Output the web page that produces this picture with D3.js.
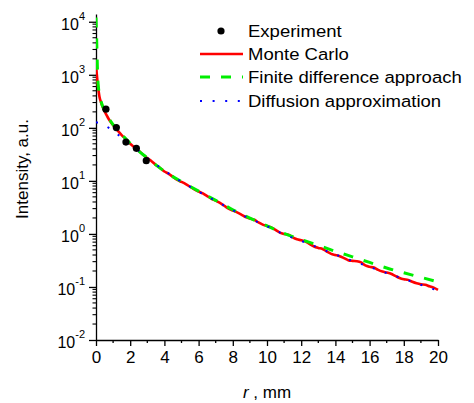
<!DOCTYPE html>
<html>
<head>
<meta charset="utf-8">
<script src="https://cdn.jsdelivr.net/npm/d3@7"></script>
<style>
  html, body { margin: 0; padding: 0; background: #fff; }
  svg { display: block; font-family: Arial, "Liberation Sans", sans-serif; }
</style>
</head>
<body>
<svg id="chart" width="474" height="403"></svg>
<script>
// Measured radial intensity profile (r in mm, intensity in a.u.)
const expR = [0.58, 1.19, 1.75, 2.36, 2.94];
const expI = [225, 101, 54, 41, 24];

// Monte Carlo simulation
const mcR = [0, 0.05, 0.1, 0.15, 0.2, 0.3, 0.4, 0.5, 0.6, 0.7, 0.85, 1.0, 1.25, 1.5, 1.75, 2.0, 2.25, 2.5, 2.75,
  3.0, 3.25, 3.5, 3.75, 4.0, 4.25, 4.5, 4.75, 5.0, 5.25, 5.5, 5.75, 6.0, 6.25, 6.5, 6.75, 7.0, 7.25, 7.5, 7.75,
  8.0, 8.25, 8.5, 8.75, 9.0, 9.25, 9.5, 9.75, 10.0, 10.25, 10.5, 10.75, 11.0, 11.25, 11.5, 11.75, 12.0, 12.25,
  12.5, 12.75, 13.0, 13.25, 13.5, 13.75, 14.0, 14.25, 14.5, 14.75, 15.0, 15.25, 15.5, 15.75, 16.0, 16.25, 16.5,
  16.75, 17.0, 17.25, 17.5, 17.75, 18.0, 18.25, 18.5, 18.75, 19.0, 19.25, 19.5, 19.75, 20.0];
const mcI = [1500, 1000, 680, 500, 390, 300, 245, 205, 178, 155, 130, 112, 90, 73, 61, 50, 43, 37, 31,
  26.9, 23.5, 20.0, 17.5, 15.0, 13.6, 11.9, 10.4, 9.55, 8.7, 7.76, 6.9, 6.31, 5.8, 5.16, 4.6, 4.25, 3.85, 3.39, 3.0,
  2.75, 2.55, 2.32, 2.08, 1.95, 1.85, 1.65, 1.5, 1.41, 1.33, 1.19, 1.06, 1.0, 0.97, 0.86, 0.79, 0.76, 0.72,
  0.64, 0.58, 0.545, 0.52, 0.465, 0.42, 0.40, 0.38, 0.35, 0.32, 0.31, 0.305, 0.29, 0.255, 0.24, 0.232, 0.21,
  0.195, 0.187, 0.178, 0.162, 0.148, 0.140, 0.136, 0.125, 0.117, 0.112, 0.110, 0.103, 0.097, 0.088];

// Finite difference approach
const fdR = [0, 0.03, 0.06, 0.1, 0.15, 0.2, 0.3, 0.5, 1, 1.5, 2, 3, 4, 5, 6, 7, 8, 9, 10, 11, 12, 13, 14, 15, 16, 17, 18, 19, 20];
const fdI = [12000, 6000, 2500, 900, 550, 420, 310, 210, 115, 75, 51, 27, 15.2, 9.7, 6.4, 4.3, 2.85, 1.98, 1.42, 1.02,
  0.78, 0.61, 0.47, 0.37, 0.29, 0.228, 0.185, 0.152, 0.125];

// Diffusion approximation
const daR = [0, 0.25, 0.5, 0.75, 1.0, 1.25, 1.5, 2, 2.5, 3, 3.5, 4, 4.5, 5, 6, 7, 8, 9, 10, 11, 12, 13, 14, 15, 16, 17, 18, 19, 20];
const daI = [127, 122, 112, 100, 88, 76, 65, 48, 37, 27, 20.5, 15.6, 12.2, 9.6, 6.3, 4.2, 2.8, 1.94, 1.4, 0.98, 0.74,
  0.55, 0.41, 0.31, 0.238, 0.183, 0.142, 0.11, 0.085];

const xTicks = [0, 2, 4, 6, 8, 10, 12, 14, 16, 18, 20];
const yTickExp = [-2, -1, 0, 1, 2, 3, 4];
const legendLabels = ["Experiment", "Monte Carlo", "Finite difference approach", "Diffusion approximation"];

const svg = d3.select("#chart");
const plotLeft = 96, plotRight = 438, plotTop = 14, plotBottom = 340;

const x = d3.scaleLinear().domain([0, 20]).range([plotLeft, plotRight]);
const y = d3.scaleLog().domain([0.01, 14000]).range([plotBottom, plotTop]);

svg.append("defs").append("clipPath").attr("id", "plotClip")
  .append("rect").attr("x", plotLeft).attr("y", plotTop)
  .attr("width", plotRight - plotLeft + 2).attr("height", plotBottom - plotTop);

// X axis with major ticks every 2 mm and minor ticks between
const xAxis = svg.append("g").attr("transform", `translate(0,${plotBottom})`)
  .call(d3.axisBottom(x).tickValues(xTicks).tickSize(6).tickSizeOuter(0).tickPadding(5).tickFormat(d3.format("d")));
xAxis.select(".domain").attr("stroke", "#000").attr("stroke-width", 1.3);
xAxis.selectAll(".tick line").attr("stroke-width", 1.3);
xAxis.selectAll(".tick text").attr("font-size", 17).attr("font-family", "Arial, 'Liberation Sans', sans-serif").attr("fill", "#000");
const xMinor = d3.range(1, 20, 2);
svg.append("g").selectAll("line").data(xMinor).join("line")
  .attr("x1", d => x(d)).attr("x2", d => x(d))
  .attr("y1", plotBottom).attr("y2", plotBottom + 3)
  .attr("stroke", "#000").attr("stroke-width", 1.3);

// Logarithmic Y axis with decade labels and 2..9 minor ticks
const yMajor = yTickExp.map(e => Math.pow(10, e));
const yAxis = svg.append("g").attr("transform", `translate(${plotLeft},0)`)
  .call(d3.axisLeft(y).tickValues(yMajor).tickSize(7).tickSizeOuter(0).tickFormat(""));
yAxis.select(".domain").attr("stroke", "#000").attr("stroke-width", 1.3);
yAxis.selectAll(".tick line").attr("stroke-width", 1.3);
const yMinor = [];
yTickExp.slice(0, -1).forEach(e => { for (let k = 2; k <= 9; k++) yMinor.push(k * Math.pow(10, e)); });
svg.append("g").selectAll("line").data(yMinor).join("line")
  .attr("x1", plotLeft - 3.5).attr("x2", plotLeft)
  .attr("y1", d => y(d)).attr("y2", d => y(d))
  .attr("stroke", "#000").attr("stroke-width", 1.1);

const yLab = svg.append("g").selectAll("text").data(yTickExp).join("text")
  .attr("x", 85).attr("y", d => y(Math.pow(10, d)) + 8)
  .attr("text-anchor", "end").attr("font-size", 16).attr("fill", "#000");
yLab.append("tspan").text("10");
yLab.append("tspan").attr("dy", -10).attr("font-size", 11).text(d => String(d));

// Axis titles
const xt = svg.append("text").attr("x", 267).attr("y", 398).attr("text-anchor", "middle")
  .attr("font-size", 17).attr("fill", "#000");
xt.append("tspan").attr("font-style", "italic").text("r");
xt.append("tspan").text(" , mm");

svg.append("text").attr("transform", "translate(28,169) rotate(-90)")
  .attr("text-anchor", "middle").attr("font-size", 17).attr("fill", "#000")
  .text("Intensity, a.u.");

// Curves
const plot = svg.append("g").attr("clip-path", "url(#plotClip)");
const mkLine = d3.line().x(d => x(d[0])).y(d => y(d[1])).curve(d3.curveMonotoneX);

plot.append("path").datum(d3.zip(mcR, mcI)).attr("d", mkLine)
  .attr("fill", "none").attr("stroke", "#ff0000").attr("stroke-width", 2.6);
plot.append("path").datum(d3.zip(fdR, fdI)).attr("d", mkLine)
  .attr("fill", "none").attr("stroke", "#00ee00").attr("stroke-width", 3)
  .attr("stroke-dasharray", "10,11");
plot.append("path").datum(d3.zip(daR, daI)).attr("d", mkLine)
  .attr("fill", "none").attr("stroke", "#0000ff").attr("stroke-width", 2)
  .attr("stroke-dasharray", "2,10.6");
plot.append("g").selectAll("circle").data(d3.zip(expR, expI)).join("circle")
  .attr("cx", d => x(d[0])).attr("cy", d => y(d[1])).attr("r", 3.6).attr("fill", "#000");

// Legend (text slightly widened horizontally)
const lg = svg.append("g");
const rowY = [31, 54, 77, 101];
lg.append("circle").attr("cx", 221).attr("cy", rowY[0]).attr("r", 3.6).attr("fill", "#000");
lg.append("line").attr("x1", 200).attr("x2", 243).attr("y1", rowY[1]).attr("y2", rowY[1])
  .attr("stroke", "#ff0000").attr("stroke-width", 2.6);
lg.append("line").attr("x1", 200).attr("x2", 243).attr("y1", rowY[2]).attr("y2", rowY[2])
  .attr("stroke", "#00ee00").attr("stroke-width", 3).attr("stroke-dasharray", "10,11");
lg.append("line").attr("x1", 200).attr("x2", 243).attr("y1", rowY[3]).attr("y2", rowY[3])
  .attr("stroke", "#0000ff").attr("stroke-width", 2).attr("stroke-dasharray", "2,10.6");
lg.selectAll("text").data(legendLabels).join("text")
  .attr("transform", (d, i) => `translate(248,${rowY[i] + 6}) scale(1.09,1)`)
  .attr("font-size", 17).attr("fill", "#000").text(d => d);
</script>
</body>
</html>
